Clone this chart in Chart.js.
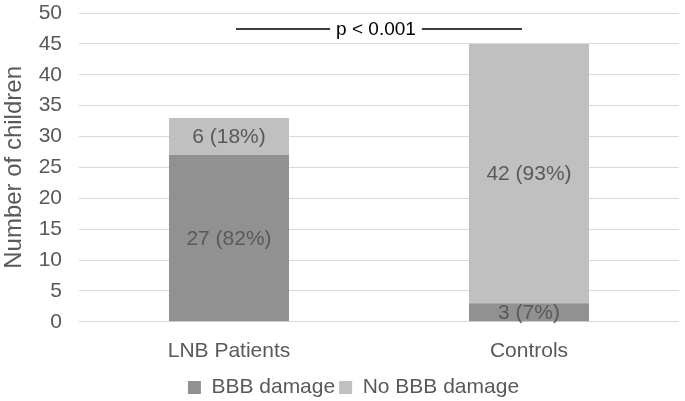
<!DOCTYPE html>
<html>
<head>
<meta charset="utf-8">
<script src="https://cdn.jsdelivr.net/npm/chart.js@4"></script>
<style>
  body { margin: 0; background: #fff; }
  #wrap { width: 685px; height: 401px; position: relative; }
</style>
</head>
<body>
<div id="wrap"><canvas id="chart"></canvas></div>
<script>
// ─── Data ────────────────────────────────────────────────────────────────────
const groups      = ['LNB Patients', 'Controls'];
const damage      = [27, 3];
const noDamage    = [6, 42];
const damageTxt   = ['27 (82%)', '3 (7%)'];
const noDamageTxt = ['6 (18%)', '42 (93%)'];
const pLabel      = 'p < 0.001';
const pLevel      = 47.4;   // height of the significance line, in axis units

const FONT = "'Liberation Sans', Arial, sans-serif";
const TXT  = '#595959';

// draws the value text centred in each stacked segment
const segmentLabels = {
    id: 'segmentLabels',
    afterDatasetsDraw(chart) {
        const ctx = chart.ctx;
        const texts = [damageTxt, noDamageTxt];
        ctx.save();
        ctx.font = `21px ${FONT}`;
        ctx.fillStyle = TXT;
        ctx.textAlign = 'center';
        ctx.textBaseline = 'middle';
        chart.data.datasets.forEach((ds, di) => {
            chart.getDatasetMeta(di).data.forEach((bar, i) => {
                const y = (bar.y + bar.base) / 2;
                ctx.fillText(texts[di][i], bar.x, y + 1);
            });
        });
        ctx.restore();
    },
};

// significance line between the two groups
const pBracket = {
    id: 'pBracket',
    afterDraw(chart) {
        const ctx = chart.ctx;
        const xs = chart.scales.x, ys = chart.scales.y;
        const x0 = xs.getPixelForValue(0), x1 = xs.getPixelForValue(1);
        const mid = (x0 + x1) / 2 - 3;
        const y = ys.getPixelForValue(pLevel);
        ctx.save();
        ctx.font = `19px ${FONT}`;
        ctx.fillStyle = '#000';
        ctx.textAlign = 'center';
        ctx.textBaseline = 'middle';
        ctx.fillText(pLabel, mid, y + 1);
        const half = ctx.measureText(pLabel).width / 2 + 6;
        ctx.strokeStyle = '#000';
        ctx.lineWidth = 1.6;
        ctx.beginPath();
        ctx.moveTo(x0 + 7, y);
        ctx.lineTo(mid - half, y);
        ctx.moveTo(mid + half, y);
        ctx.lineTo(x1 - 7, y);
        ctx.stroke();
        ctx.restore();
    },
};

// the legend sits a little right of the canvas centre in the original
const legendNudge = {
    id: 'legendNudge',
    afterLayout(chart) {
        chart.legend.left += 14;
        chart.legend.right += 14;
    },
};

new Chart(document.getElementById('chart'), {
    type: 'bar',
    data: {
        labels: groups,
        datasets: [
            { label: 'BBB damage',    data: damage,   backgroundColor: '#919191' },
            { label: 'No BBB damage', data: noDamage, backgroundColor: '#c0c0c0' },
        ],
    },
    options: {
        responsive: true,
        maintainAspectRatio: false,
        animation: false,
        layout: { padding: { left: 0, right: 6, top: 13, bottom: -7 } },
        datasets: { bar: { categoryPercentage: 1, barPercentage: 0.4 } },
        plugins: {
            tooltip: { enabled: false },
            legend: {
                position: 'bottom',
                labels: {
                    color: TXT,
                    font: { size: 21, family: FONT },
                    boxWidth: 13,
                    boxHeight: 13,
                    padding: 4,
                },
            },
        },
        scales: {
            x: {
                stacked: true,
                grid: { display: false },
                border: { display: false },
                ticks: { color: TXT, font: { size: 21, family: FONT }, padding: 9 },
            },
            y: {
                stacked: true,
                min: 0,
                max: 50,
                afterFit(scale) {
                    scale.width = 79;
                    scale.paddingTop = 0;
                    scale.paddingBottom = 0;
                },
                grid: { color: '#d9d9d9', drawTicks: false },
                border: { display: false },
                ticks: { stepSize: 5, color: TXT, font: { size: 21, family: FONT }, padding: 17 },
                title: { display: true, text: 'Number of children', color: TXT, font: { size: 24, family: FONT }, padding: 0 },
            },
        },
    },
    plugins: [segmentLabels, pBracket, legendNudge],
});
</script>
</body>
</html>
